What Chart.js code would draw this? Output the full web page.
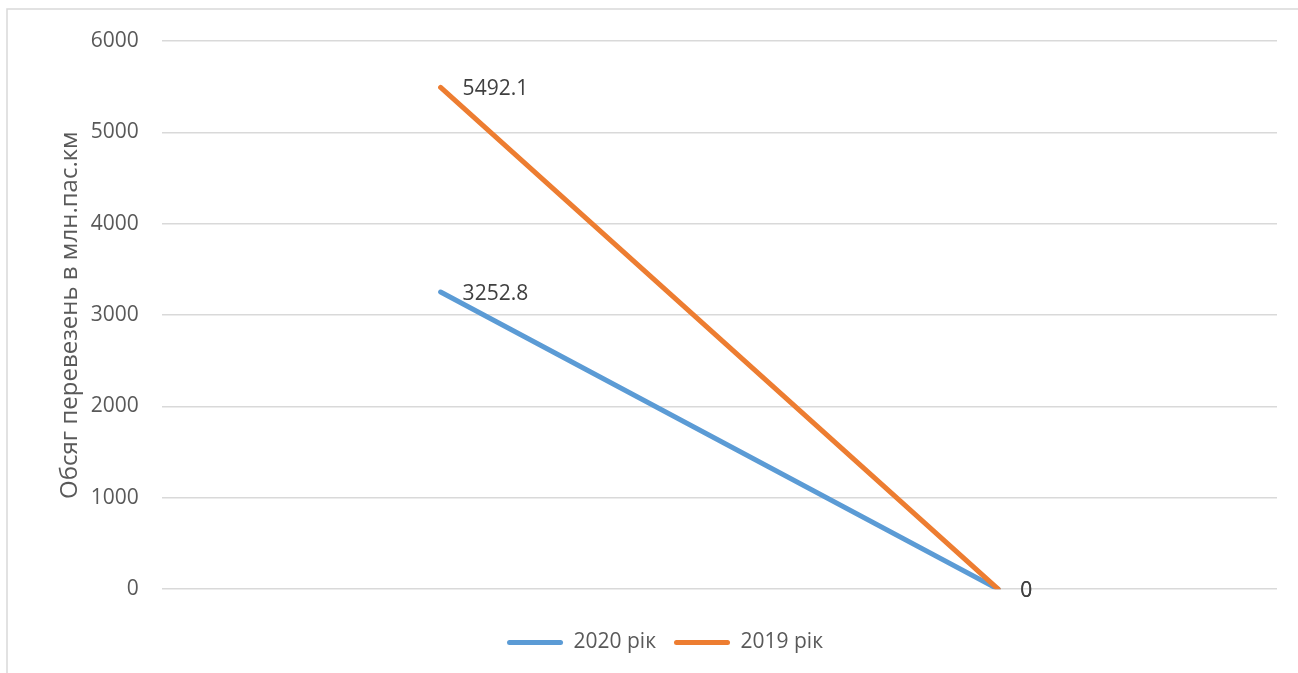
<!DOCTYPE html>
<html>
<head>
<meta charset="utf-8">
<script src="https://cdn.jsdelivr.net/npm/chart.js@4/dist/chart.umd.min.js"></script>
<style>
html,body{margin:0;padding:0;background:#fff;}
#wrap{width:1298px;height:673px;position:relative;}
</style>
</head>
<body>
<div id="wrap"><canvas id="c" width="1298" height="673"></canvas></div>
<script>
const categories = ["2020", "2021"];
const series2020 = [3252.8, 0];
const series2019 = [5492.1, 0];
const seriesNames = ["2020 рік", "2019 рік"];
const yTitle = "Обсяг перевезень в млн.пас.км";

const FONT = "'Open Sans', sans-serif";

const borderPlugin = {
  id: 'frame',
  beforeDraw(chart) {
    const ctx = chart.ctx;
    ctx.save();
    ctx.fillStyle = '#fff';
    ctx.fillRect(0, 0, chart.width, chart.height);
    ctx.strokeStyle = '#d9d9d9';
    ctx.lineWidth = 1.5;
    ctx.strokeRect(7, 9, chart.width + 20, chart.height + 20);
    ctx.restore();
  }
};

const labelPlugin = {
  id: 'valueLabels',
  afterDatasetsDraw(chart) {
    const ctx = chart.ctx;
    ctx.save();
    ctx.font = "21px " + FONT;
    ctx.fillStyle = '#404040';
    ctx.textAlign = 'left';
    ctx.textBaseline = 'middle';
    chart.data.datasets.forEach((ds, di) => {
      const meta = chart.getDatasetMeta(di);
      meta.data.forEach((pt, i) => {
        ctx.fillText(String(ds.data[i]), pt.x + 22, pt.y + 2);
      });
    });
    ctx.restore();
  }
};

new Chart(document.getElementById('c'), {
  type: 'line',
  data: {
    labels: categories,
    datasets: [
      {
        label: seriesNames[0],
        data: series2020,
        borderColor: '#5B9BD5',
        backgroundColor: '#5B9BD5',
        borderWidth: 5,
        borderCapStyle: 'round',
        pointRadius: 0,
        tension: 0,
        order: 1
      },
      {
        label: seriesNames[1],
        data: series2019,
        borderColor: '#ED7D31',
        backgroundColor: '#ED7D31',
        borderWidth: 5,
        borderCapStyle: 'round',
        pointRadius: 0,
        tension: 0,
        order: 0
      }
    ]
  },
  options: {
    responsive: false,
    animation: false,
    devicePixelRatio: 1,
    layout: { padding: { left: 53, right: 21, top: 41, bottom: 10 } },
    plugins: {
      tooltip: { enabled: false },
      legend: {
        position: 'bottom',
        labels: {
          sort: (a, b) => a.datasetIndex - b.datasetIndex,
          boxWidth: 56,
          boxHeight: 5,
          padding: 18,
          color: '#595959',
          font: { family: FONT, size: 21 },
          useBorderRadius: true,
          borderRadius: 2.5,
          generateLabels(chart) {
            return chart.data.datasets.map((ds, i) => ({
              text: ds.label,
              fillStyle: ds.borderColor,
              strokeStyle: ds.borderColor,
              lineWidth: 0,
              datasetIndex: i,
              hidden: false,
              fontColor: '#595959',
              borderRadius: 2.5
            }));
          }
        }
      }
    },
    scales: {
      x: {
        display: true,
        offset: true,
        ticks: { display: false },
        grid: { display: false },
        border: { display: false },
        title: {
          display: true,
          text: ' ',
          font: { family: FONT, size: 14 },
          padding: 0
        }
      },
      y: {
        min: 0,
        max: 6000,
        ticks: {
          stepSize: 1000,
          padding: 23,
          color: '#595959',
          font: { family: FONT, size: 21 },
          callback: (v) => String(v)
        },
        grid: { color: '#d9d9d9', lineWidth: 1.5, drawTicks: false },
        border: { display: false },
        title: {
          display: true,
          text: yTitle,
          color: '#595959',
          font: { family: FONT, size: 24 },
          padding: { top: 3, bottom: -17 }
        }
      }
    }
  },
  plugins: [borderPlugin, labelPlugin]
});
</script>
</body>
</html>
